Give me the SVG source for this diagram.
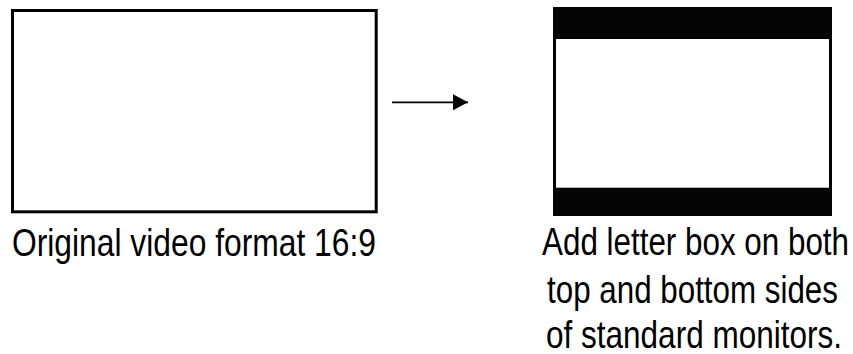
<svg xmlns="http://www.w3.org/2000/svg" width="853" height="354" viewBox="0 0 853 354">
<style>
.lbl{font-family:"Liberation Sans",Arial,sans-serif;font-size:38.5px;fill:#000}
</style>
<defs>
<marker id="ah" markerUnits="userSpaceOnUse" markerWidth="16" markerHeight="17" refX="15" refY="8" orient="auto">
<polygon points="0,0 15,8 0,16" fill="#000"/>
</marker>
</defs>
<rect width="853" height="354" fill="#fff"/>
<g id="original">
<rect x="12.5" y="10.5" width="363.7" height="201.3" fill="#fff" stroke="#000" stroke-width="3"/>
<text class="lbl" transform="translate(12,256) scale(0.815,1)" textLength="446.6" lengthAdjust="spacingAndGlyphs">Original video format 16:9</text>
</g>
<g id="letterbox">
<rect x="553" y="7" width="279" height="209" fill="#050505"/>
<rect x="556" y="39" width="273" height="148.7" fill="#fff"/>
<text class="lbl" transform="translate(542,255) scale(0.815,1)" textLength="376.7" lengthAdjust="spacingAndGlyphs">Add letter box on both</text>
<text class="lbl" transform="translate(547,303) scale(0.815,1)" textLength="357" lengthAdjust="spacingAndGlyphs">top and bottom sides</text>
<text class="lbl" transform="translate(546,348) scale(0.815,1)" textLength="363.2" lengthAdjust="spacingAndGlyphs">of standard monitors.</text>
</g>
<g id="connectors">
<line x1="392" y1="102.3" x2="468" y2="102.3" stroke="#000" stroke-width="1.8" marker-end="url(#ah)"/>
</g>
</svg>
